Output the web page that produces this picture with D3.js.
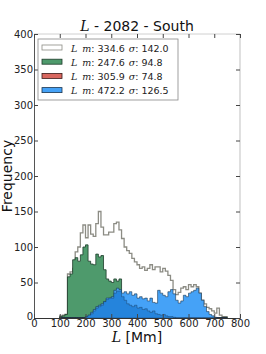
<!DOCTYPE html>
<html>
<head>
<meta charset="utf-8">
<script src="https://cdn.jsdelivr.net/npm/d3@7"></script>
<style>
  body { margin: 0; background: #fff; }
  svg { font-family: "DejaVu Sans", sans-serif; }
  .math { font-family: "DejaVu Serif", serif; font-style: italic; }
</style>
</head>
<body>
<svg width="266" height="354"></svg>
<script>
  // bin left edges (Mm), 10 Mm wide
  const binStarts = d3.range(100, 750, 10);

  const totalCounts = [
    3, 4, 5, 62, 65, 70, 93, 100, 120, 131,
    113, 131, 118, 115, 133, 150, 128, 117, 117, 121,
    121, 133, 135, 124, 112, 100, 95, 91, 84, 79,
    75, 70, 72, 67, 70, 75, 68, 72, 72, 65,
    70, 66, 60, 53, 40, 33, 36, 42, 44, 40,
    47, 44, 47, 44, 35, 25, 20, 15, 13, 10,
    7, 14, 4, 2, 2
  ];
  const greenCounts = [
    2, 3, 5, 58, 62, 82, 85, 80, 89, 100,
    103, 80, 76, 75, 90, 86, 88, 68, 55, 52,
    50, 55, 52, 55, 30, 15, 8, 4, 2, 1,
    0, 0, 0, 0, 0, 0, 0, 0, 0, 0,
    0, 0, 0, 0, 0, 0, 0, 0, 0, 0,
    0, 0, 0, 0, 0, 0, 0, 0, 0, 0,
    0, 0, 0, 1, 1
  ];
  const redCounts = [
    0, 0, 0, 0, 0, 0, 0, 0, 0, 0,
    0, 0, 0, 0, 0, 0, 0, 0, 0, 0,
    0, 0, 0, 0, 0, 0, 0, 0, 0, 0,
    0, 0, 0, 0, 0, 0, 0, 0, 0, 0,
    0, 0, 0, 0, 0, 0, 0, 0, 0, 0,
    0, 0, 0, 0, 0, 0, 0, 0, 0, 0,
    0, 0, 0, 0, 0
  ];
  const blueCounts = [
    0, 0, 0, 0, 0, 0, 0, 0, 0, 0,
    2, 4, 8, 12, 16, 18, 20, 23, 28, 28,
    30, 39, 42, 40, 35, 37, 34, 37, 32, 34,
    28, 30, 27, 28, 24, 28, 22, 21, 39, 35,
    32, 30, 37, 40, 34, 25, 21, 24, 32, 30,
    35, 37, 39, 42, 35, 25, 16, 9, 5, 3,
    1, 0, 0, 0, 0
  ];
  // darker blue part of the blue histogram
  const overlapCounts = [
    0, 0, 0, 0, 0, 0, 0, 0, 0, 0,
    2, 4, 6, 10, 14, 16, 18, 23, 26, 28,
    28, 35, 38, 38, 30, 25, 20, 18, 16, 18,
    14, 15, 12, 13, 10, 8, 10, 6, 5, 4,
    5, 3, 2, 2, 1, 0, 0, 0, 0, 0,
    0, 0, 0, 0, 0, 0, 0, 0, 0, 0,
    0, 0, 0, 0, 0
  ];

  const legendItems = [
    { m: '334.6', s: '142.0', fill: '#ffffff', stroke: '#8c8c84' },
    { m: '247.6', s: '94.8', fill: '#4e9a6c', stroke: '#1d3b2a' },
    { m: '305.9', s: '74.8', fill: '#d8675f', stroke: '#3a1a18' },
    { m: '472.2', s: '126.5', fill: '#45a2f7', stroke: '#1a3550' }
  ];

  const xTicks = [0, 100, 200, 300, 400, 500, 600, 700, 800];
  const yTicks = [0, 50, 100, 150, 200, 250, 300, 350, 400];

  const svg = d3.select('svg');
  const x = d3.scaleLinear().domain([0, 800]).range([34, 240]);
  const y = d3.scaleLinear().domain([0, 400]).range([318, 34]);

  const histPath = counts => {
    const pts = binStarts.map((b, i) => [b, counts[i]]);
    pts.push([binStarts[binStarts.length - 1] + 10, 0]);
    return d3.area()
      .x(d => x(d[0]))
      .y0(y(0))
      .y1(d => y(d[1]))
      .curve(d3.curveStepAfter)(pts);
  };

  const plot = svg.append('g');

  const drawHist = (counts, fill, stroke, width) =>
    plot.append('path')
      .attr('d', histPath(counts))
      .attr('fill', fill)
      .attr('stroke', stroke)
      .attr('stroke-width', width)
      .attr('stroke-linejoin', 'miter');

  drawHist(totalCounts, '#ffffff', '#8c8c84', 1.3);
  drawHist(greenCounts, '#4e9a6c', '#1d3b2a', 0.8);
  drawHist(redCounts, '#d8675f', '#3a1a18', 0.8);
  drawHist(blueCounts, '#45a2f7', '#1a3550', 0.6);
  drawHist(overlapCounts, '#2584dc', '#1a3550', 0.4);

  // frame
  svg.append('line').attr('x1', 34).attr('x2', 240).attr('y1', 34).attr('y2', 34)
    .attr('stroke', '#d0d0d0').attr('stroke-width', 1);
  svg.append('line').attr('x1', 240).attr('x2', 240).attr('y1', 34).attr('y2', 318)
    .attr('stroke', '#d8d8d8').attr('stroke-width', 1.6);

  // axes with inward ticks
  const axL = svg.append('g').attr('transform', 'translate(34,0)')
    .call(d3.axisLeft(y).tickValues(yTicks).tickSize(-4).tickPadding(1));
  const axB = svg.append('g').attr('transform', 'translate(0,318)')
    .call(d3.axisBottom(x).tickValues(xTicks).tickSize(-4).tickPadding(2));
  const axR = svg.append('g').attr('transform', 'translate(240,0)')
    .call(d3.axisRight(y).tickValues(yTicks).tickSize(-4).tickFormat(''));
  const axT = svg.append('g').attr('transform', 'translate(0,34)')
    .call(d3.axisTop(x).tickValues(xTicks).tickSize(-4).tickFormat(''));

  [axL, axB, axR, axT].forEach(a => {
    a.selectAll('text').attr('font-size', 10).attr('fill', '#222')
      .attr('font-family', '"DejaVu Sans", sans-serif');
    a.selectAll('.tick line').attr('stroke', '#444');
  });
  axL.select('.domain').attr('stroke', '#555');
  axB.select('.domain').attr('stroke', '#333');
  axR.select('.domain').remove();
  axT.select('.domain').remove();
  // lift the y "0" a little so it clears the x "0"
  axL.selectAll('.tick text').filter(d => d === 0).attr('dy', '0.1em');

  // title
  const title = svg.append('text').attr('x', 137).attr('y', 31)
    .attr('text-anchor', 'middle').attr('font-size', 14).attr('fill', '#111');
  title.append('tspan').attr('class', 'math').text('L');
  title.append('tspan').text(' - 2082 - South');

  const xl = svg.append('text').attr('x', 137).attr('y', 342)
    .attr('text-anchor', 'middle').attr('font-size', 14).attr('fill', '#111');
  xl.append('tspan').attr('class', 'math').text('L');
  xl.append('tspan').text(' [Mm]');

  svg.append('text')
    .attr('transform', 'translate(11.5,176) rotate(-90)')
    .attr('text-anchor', 'middle').attr('font-size', 14).attr('fill', '#111')
    .text('Frequency');

  // legend
  const lg = svg.append('g').attr('transform', 'translate(38,39)');
  lg.append('rect').attr('width', 140).attr('height', 61)
    .attr('fill', '#fff').attr('stroke', '#888').attr('stroke-width', 0.8);
  const rows = lg.selectAll('g.row').data(legendItems).enter().append('g')
    .attr('class', 'row')
    .attr('transform', (d, i) => `translate(4,${9 + i * 14.2})`);
  rows.append('rect').attr('x', 0).attr('y', -3).attr('width', 20).attr('height', 5)
    .attr('fill', d => d.fill).attr('stroke', d => d.stroke).attr('stroke-width', 0.8);
  const t = rows.append('text').attr('x', 29).attr('y', 3.5).attr('font-size', 9.5).attr('fill', '#222');
  t.append('tspan').attr('class', 'math').text('L');
  t.append('tspan').attr('class', 'math').attr('dx', 5).text('m');
  t.append('tspan').text(d => ': ' + d.m);
  t.append('tspan').attr('class', 'math').attr('dx', 4).text('σ');
  t.append('tspan').text(d => ': ' + d.s);
</script>
</body>
</html>
